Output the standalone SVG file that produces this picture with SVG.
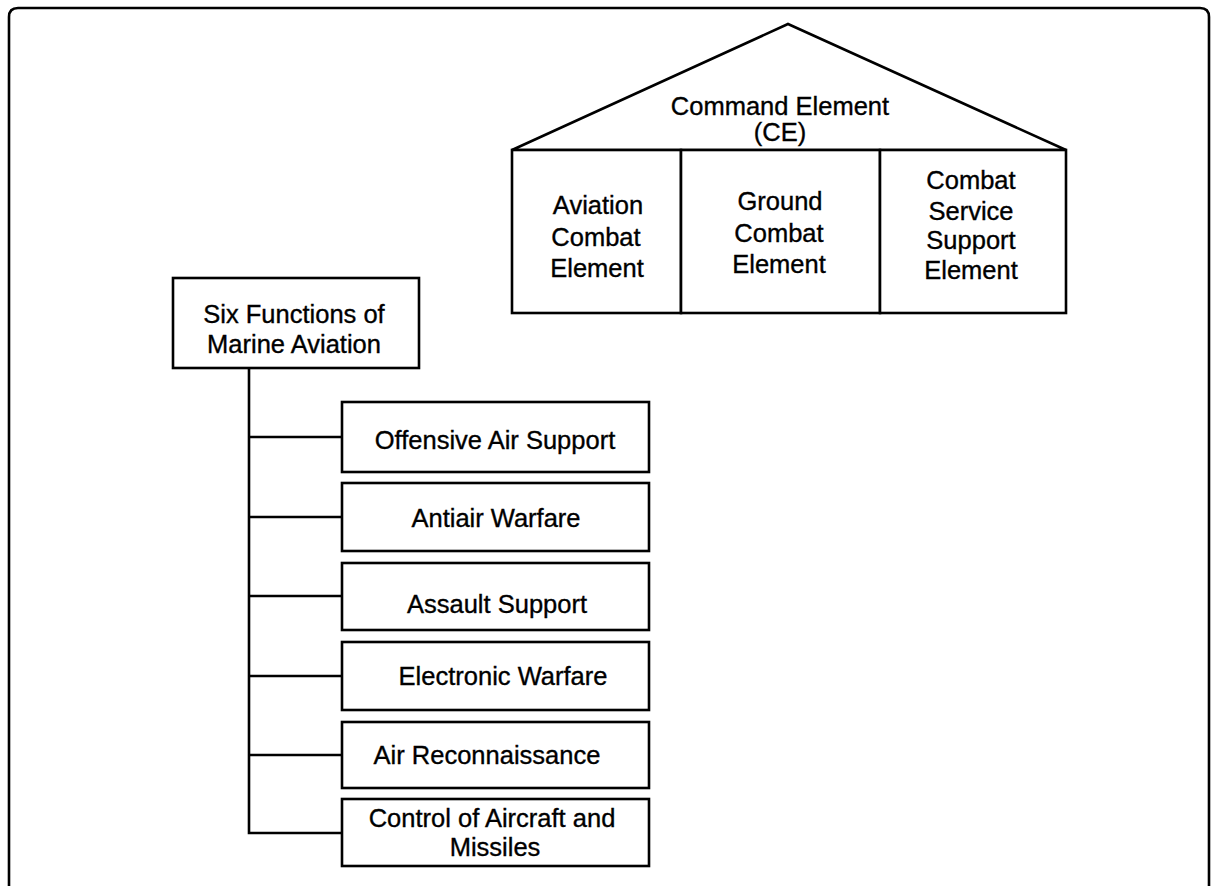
<svg xmlns="http://www.w3.org/2000/svg" width="1211" height="886" viewBox="0 0 1211 886">
<style>
.b{fill:#fff;stroke:#000;stroke-width:2.6}
.l{fill:none;stroke:#000;stroke-width:2.6}
text{font-family:"Liberation Sans",Arial,sans-serif;font-size:25.5px;fill:#000;stroke:#000;stroke-width:0.35;text-anchor:middle}
</style>
<rect x="0" y="0" width="1211" height="886" fill="#fff"/>
<path id="frame" class="l" d="M9,900 V17 Q9,8 18,8 H1200 Q1209,8 1209,17 V900"/>
<g id="house">
<polygon class="b" points="512,150 788,24 1066,150"/>
<text x="780" y="115">Command Element</text>
<text x="780" y="141">(CE)</text>
</g>
<g id="ace">
<rect class="b" x="512" y="150" width="169" height="163"/>
<text x="598" y="214">Aviation</text>
<text x="596" y="246">Combat</text>
<text x="597" y="277">Element</text>
</g>
<g id="gce">
<rect class="b" x="681" y="150" width="199" height="163"/>
<text x="780" y="210">Ground</text>
<text x="779" y="242">Combat</text>
<text x="779" y="273">Element</text>
</g>
<g id="csse">
<rect class="b" x="880" y="150" width="186" height="163"/>
<text x="971" y="189">Combat</text>
<text x="971" y="220">Service</text>
<text x="971" y="249">Support</text>
<text x="971" y="279">Element</text>
</g>
<g id="connectors">
<path class="l" d="M249,368 V833 H342 M249,437 H342 M249,517 H342 M249,596 H342 M249,676 H342 M249,755 H342"/>
</g>
<g id="six">
<rect class="b" x="173" y="278" width="246" height="90"/>
<text x="294" y="323">Six Functions of</text>
<text x="294" y="353">Marine Aviation</text>
</g>
<g id="oas">
<rect class="b" x="342" y="402" width="307" height="70"/>
<text x="495" y="449">Offensive Air Support</text>
</g>
<g id="aaw">
<rect class="b" x="342" y="483" width="307" height="68"/>
<text x="496" y="527">Antiair Warfare</text>
</g>
<g id="as">
<rect class="b" x="342" y="563" width="307" height="67"/>
<text x="497" y="613">Assault Support</text>
</g>
<g id="ew">
<rect class="b" x="342" y="642" width="307" height="68"/>
<text x="503" y="685">Electronic Warfare</text>
</g>
<g id="ar">
<rect class="b" x="342" y="722" width="307" height="66"/>
<text x="487" y="764">Air Reconnaissance</text>
</g>
<g id="cam">
<rect class="b" x="342" y="799" width="307" height="67"/>
<text x="492" y="827">Control of Aircraft and</text>
<text x="495" y="856">Missiles</text>
</g>
</svg>
